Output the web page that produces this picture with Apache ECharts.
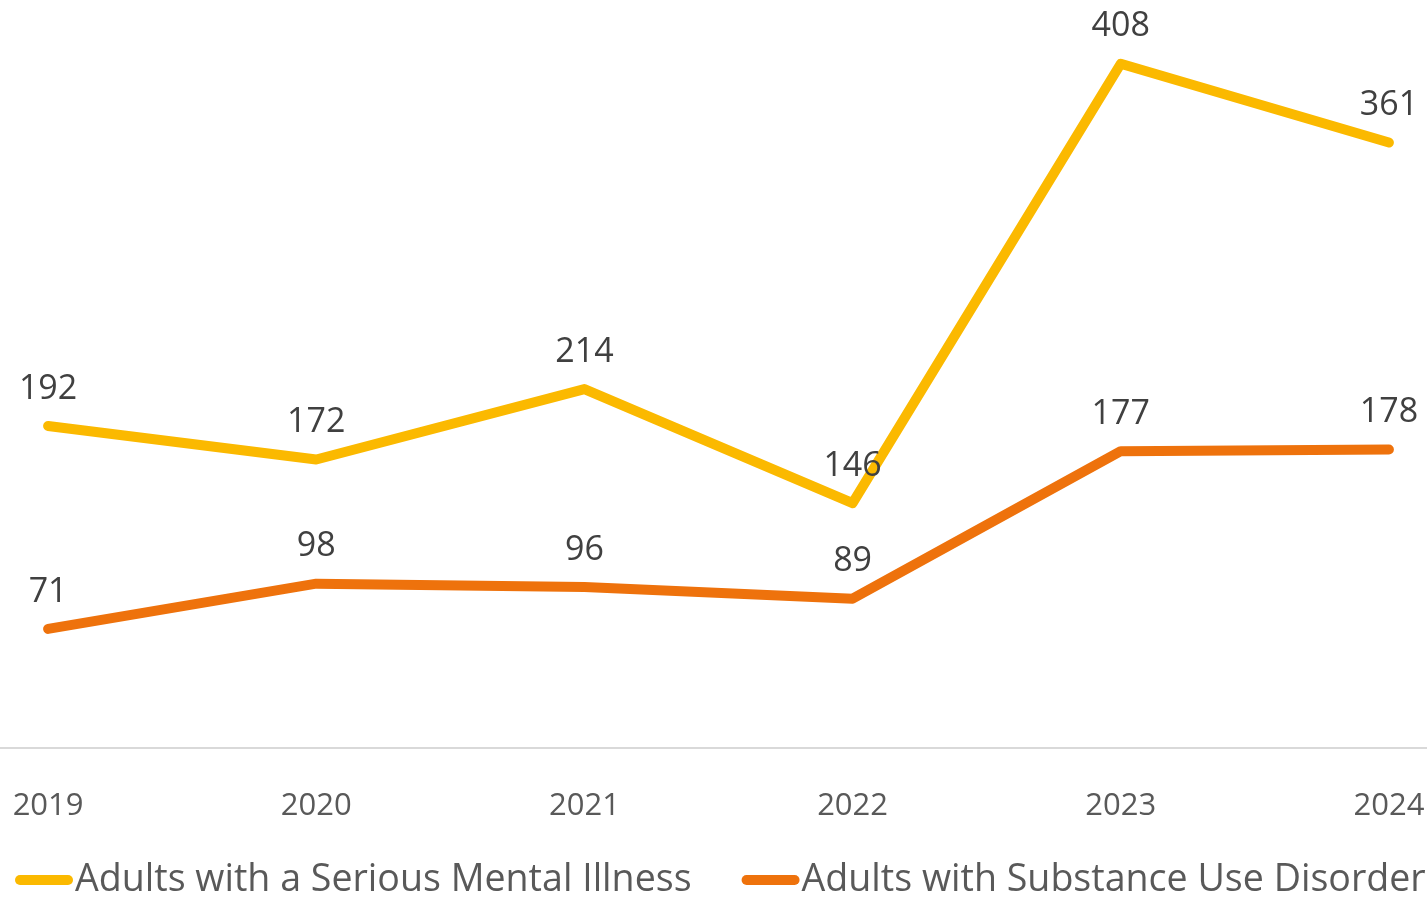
<!DOCTYPE html>
<html>
<head>
<meta charset="utf-8">
<script src="https://cdn.jsdelivr.net/npm/echarts@6/dist/echarts.min.js"></script>
<style>html,body{margin:0;padding:0;background:#fff;overflow:hidden;width:1427px;height:900px;}#c{width:1609px;height:900px;margin-left:-86px;}</style>
</head>
<body>
<div id="c"></div>
<script>
const categories = ['2019', '2020', '2021', '2022', '2023', '2024'];
const smiValues = [192, 172, 214, 146, 408, 361];
const sudValues = [71, 98, 96, 89, 177, 178];
const seriesNames = ['Adults with a Serious Mental Illness', 'Adults with Substance Use Disorder'];

const chart = echarts.init(document.getElementById('c'));
const font = '"Open Sans", "Noto Sans", sans-serif';
const icon = 'path://M5,0 L53,0 A5,5 0 0 1 53,10 L5,10 A5,5 0 0 1 5,0 Z';
function lineSeries(name, data, color) {
  return {
    name: name, type: 'line', data: data,
    symbol: 'circle', symbolSize: 0, showSymbol: true, smooth: false,
    lineStyle: { color: color, width: 10, cap: 'round', join: 'round' },
    itemStyle: { color: color },
    label: {
      show: true, position: 'top', distance: 20,
      color: '#404040', fontSize: 34, fontFamily: font
    },
    emphasis: { disabled: true }
  };
}
chart.setOption({
  animation: false,
  grid: { left: 0, right: 0, top: 0, bottom: 152, containLabel: false },
  xAxis: {
    type: 'category', data: categories, boundaryGap: true,
    axisLine: { show: true, lineStyle: { color: '#d9d9d9', width: 2 } },
    axisTick: { show: false },
    axisLabel: { color: '#595959', fontSize: 31, fontFamily: font, margin: 43 }
  },
  yAxis: {
    type: 'value', min: 0, max: 446,
    axisLine: { show: false }, axisTick: { show: false },
    axisLabel: { show: false }, splitLine: { show: false }
  },
  legend: {
    left: 96, bottom: -4, itemWidth: 58, itemHeight: 10, itemGap: 50,
    icon: icon,
    textStyle: { color: '#595959', fontSize: 37.6, fontFamily: font, padding: [0, 0, 0, -3] },
    data: seriesNames
  },
  series: [
    lineSeries(seriesNames[0], smiValues, '#FBB900'),
    lineSeries(seriesNames[1], sudValues, '#EE720C')
  ]
});
</script>
</body>
</html>
